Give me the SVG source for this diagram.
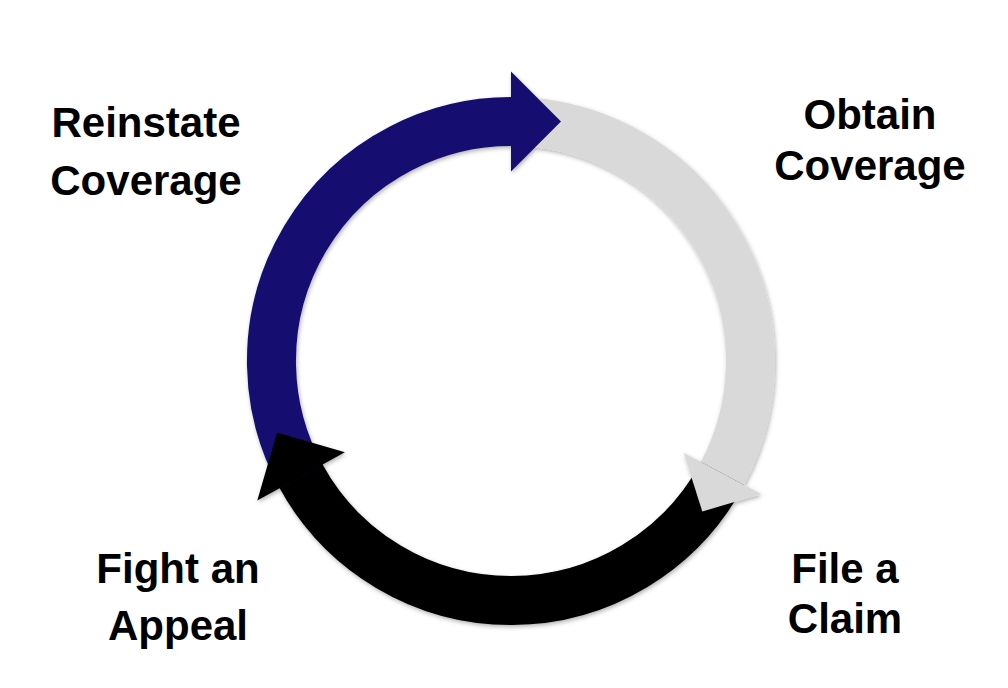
<svg xmlns="http://www.w3.org/2000/svg" width="1008" height="688" viewBox="0 0 1008 688">
<style>
.lbl{font-family:"Liberation Sans",Arial,sans-serif;font-weight:bold;font-size:42px;fill:#000;text-anchor:middle}
.body{fill:none;stroke-width:49}
</style>
<defs>
<filter id="sh" x="-10%" y="-10%" width="120%" height="120%">
<feDropShadow dx="1" dy="2" stdDeviation="2" flood-color="#000" flood-opacity="0.3"/>
</filter>
</defs>
<rect width="1008" height="688" fill="#fff"/>
<g id="connectors" filter="url(#sh)">
<path class="body" stroke="#d9d9d9" d="M511,121.5 A239.5,239.5 0 0 1 721.9,474.5"/>
<path class="body" stroke="#000" d="M722.5,473.4 A239.5,239.5 0 0 1 300.5,475.3"/>
<path class="body" stroke="#13106f" d="M301.1,476.4 A239.5,239.5 0 0 1 512.3,121.5"/>
<polygon fill="#d9d9d9" points="761.3,494.1 702.3,511.4 683.7,452.7"/>
<polygon fill="#000" points="257.3,500.5 277,432.6 344.9,452.3"/>
<polygon fill="#13106f" points="511,71.5 561,121.5 511,171.5"/>
</g>
<g id="node-reinstate"><text class="lbl" x="146" y="137">Reinstate</text><text class="lbl" x="146" y="195">Coverage</text></g>
<g id="node-obtain"><text class="lbl" x="870" y="129">Obtain</text><text class="lbl" x="870" y="180">Coverage</text></g>
<g id="node-claim"><text class="lbl" x="845" y="583">File a</text><text class="lbl" x="845" y="633">Claim</text></g>
<g id="node-appeal"><text class="lbl" x="178" y="583">Fight an</text><text class="lbl" x="178" y="640">Appeal</text></g>
</svg>
